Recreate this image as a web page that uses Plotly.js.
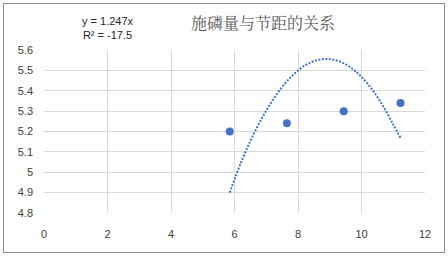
<!DOCTYPE html>
<html>
<head>
<meta charset="utf-8">
<script src="https://cdn.plot.ly/plotly-3.0.1.min.js"></script>
<style>
html,body{margin:0;padding:0;background:#fff;}
#wrap{position:relative;width:448px;height:256px;}
#chart{width:448px;height:256px;}
#frame{position:absolute;left:3px;top:3px;width:442px;height:250px;border:1px solid #8c8c8c;box-sizing:border-box;pointer-events:none;}
</style>
</head>
<body>
<div id="wrap"><div id="chart"></div><div id="frame"></div></div>
<script>
// Data
const phosphorus = [5.85, 7.65, 9.44, 11.23];
const spacing = [5.20, 5.24, 5.30, 5.34];
// Trendline points
const trendX = [5.85, 6.2, 6.6, 7.0, 7.4, 7.8, 8.2, 8.6, 9.0, 9.4, 9.8, 10.2, 10.6, 11.0, 11.23];
const trendY = [4.900, 5.046, 5.186, 5.303, 5.398, 5.471, 5.522, 5.550, 5.555, 5.538, 5.497, 5.433, 5.345, 5.234, 5.168];
const xTicks = [0, 2, 4, 6, 8, 10, 12];
const yTicks = [4.8, 4.9, 5, 5.1, 5.2, 5.3, 5.4, 5.5, 5.6];
const titleText = '施磷量与节距的关系';
const eqText = 'y = 1.247x<br>R² = -17.5';

const blue = '#4472c4';
const traces = [
  {x: trendX, y: trendY, mode: 'lines', type: 'scatter', line: {color: blue, width: 2, dash: '2px,1.5px', shape: 'spline', smoothing: 1}, hoverinfo: 'skip'},
  {x: phosphorus, y: spacing, mode: 'markers', type: 'scatter', marker: {color: blue, size: 8}}
];
const layout = {
  width: 448, height: 256,
  margin: {l: 44, r: 23, t: 50, b: 43},
  paper_bgcolor: '#fff', plot_bgcolor: '#fff',
  showlegend: false,
  title: {text: titleText, font: {family: 'Noto Serif CJK SC, Noto Sans CJK SC', size: 16, color: '#595959'}, x: 0.587, xanchor: 'center', y: 0.91, yanchor: 'middle'},
  xaxis: {range: [0, 12], tickvals: xTicks, ticktext: xTicks.map(String), showgrid: true, gridcolor: '#d9d9d9', gridwidth: 1, zeroline: false, showline: false, ticks: '', ticklabelstandoff: 13,
          tickfont: {family: 'Liberation Sans', size: 11, color: '#404040'}, fixedrange: true},
  yaxis: {range: [4.8, 5.6], tickvals: yTicks, ticktext: yTicks.map(v => String(v)), showgrid: true, gridcolor: '#d9d9d9', gridwidth: 1, zeroline: false, showline: false, ticks: '', ticklabelstandoff: 10,
          tickfont: {family: 'Liberation Sans', size: 11, color: '#404040'}, fixedrange: true},
  annotations: [{text: eqText, xref: 'paper', yref: 'paper', x: 0.168, xanchor: 'center', y: 1.132, yanchor: 'middle', showarrow: false,
                 font: {family: 'Liberation Sans', size: 11, color: '#262626'}, align: 'center'}]
};
Plotly.newPlot('chart', traces, layout, {staticPlot: true});
</script>
</body>
</html>
